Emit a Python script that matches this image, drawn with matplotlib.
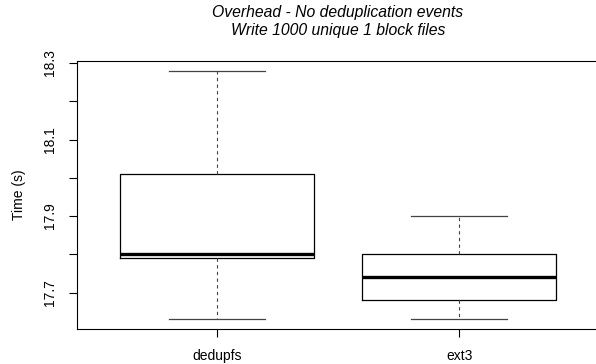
import matplotlib
matplotlib.use("Agg")
import matplotlib.pyplot as plt

categories = ["dedupfs", "ext3"]
whislo = [17.63, 17.63]
q1 = [17.79, 17.68]
med = [17.80, 17.74]
q3 = [18.01, 17.80]
whishi = [18.28, 17.90]
yticks = [17.7, 17.8, 17.9, 18.0, 18.1, 18.2, 18.3]
ytick_labels = ["17.7", "", "17.9", "", "18.1", "", "18.3"]

plt.rcParams['font.family'] = ['Liberation Sans', 'DejaVu Sans']

fig = plt.figure(figsize=(5.96, 3.64), dpi=100)
ax = fig.add_axes([76.5/596, 1-329.3/364, (599.5-76.5)/596, (329.3-60.7)/364])

stats = []
for i, c in enumerate(categories):
    stats.append(dict(label=c, whislo=whislo[i], q1=q1[i], med=med[i],
                      q3=q3[i], whishi=whishi[i], fliers=[]))

ax.bxp(stats, positions=[1, 2], widths=0.8, capwidths=0.4, showfliers=False,
       boxprops=dict(color='black', linewidth=0.9),
       medianprops=dict(color='black', linewidth=2.4),
       whiskerprops=dict(color='#444444', linewidth=0.8, linestyle=(0, (3, 3))),
       capprops=dict(color='#444444', linewidth=0.9))

lo = min(whislo); hi = max(whishi); pad = (hi - lo) * 0.04
ax.set_ylim(lo - pad, hi + pad)
ax.set_xlim(0.5 - 0.08, 2.5 + 0.08)

ax.set_yticks(yticks)
ax.set_yticklabels(ytick_labels, rotation=90, va='center', fontsize=10)
ax.set_xticks([1, 2])
ax.set_xticklabels(categories, fontsize=10)
ax.tick_params(axis='both', direction='out', length=6, width=0.8, color='black')
ax.tick_params(axis='x', pad=8)
ax.tick_params(axis='y', pad=8)
for s in ax.spines.values():
    s.set_linewidth(0.8)
    s.set_color('black')

ax.set_ylabel("Time (s)", fontsize=10, labelpad=12)
fig.text(338/596, 1-13/364, "Overhead - No deduplication events", ha='center', va='center',
         fontsize=11.3, style='italic')
fig.text(338/596, 1-31/364, "Write 1000 unique 1 block files", ha='center', va='center',
         fontsize=11.3, style='italic')

fig.savefig("out.png", dpi=100)
